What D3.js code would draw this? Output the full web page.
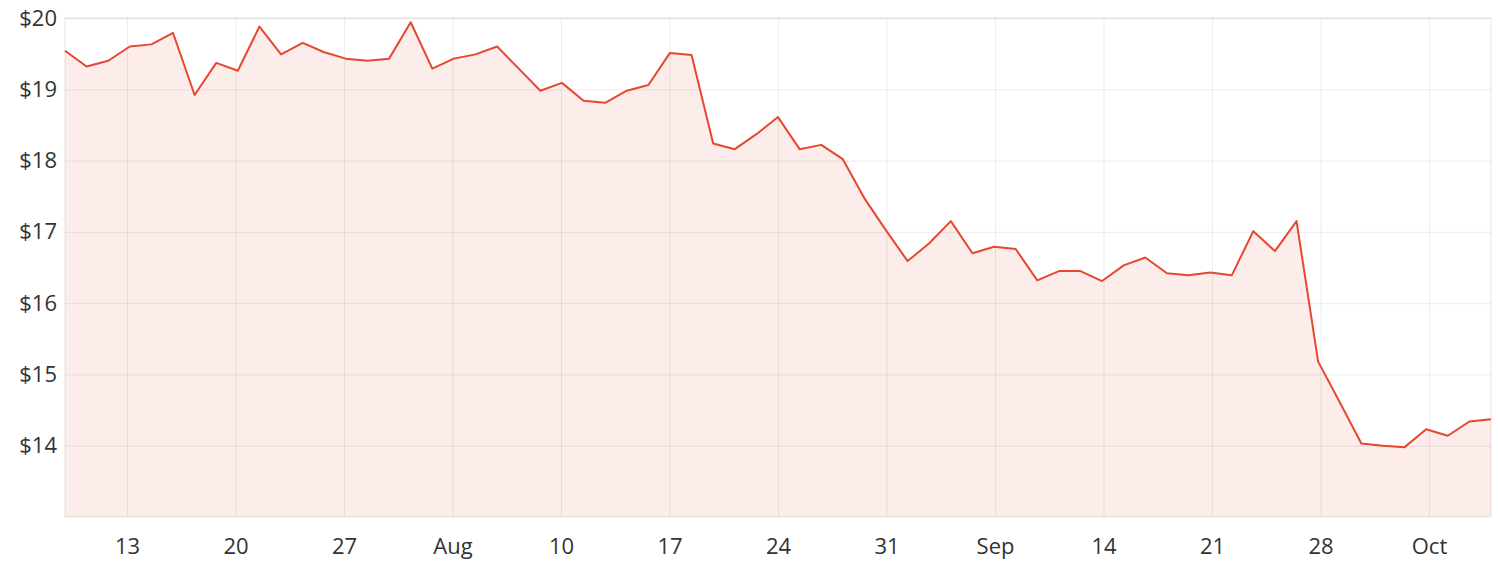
<!DOCTYPE html>
<html>
<head>
<meta charset="utf-8">
<script src="https://cdn.jsdelivr.net/npm/d3@7"></script>
<style>
  body { margin: 0; background: #fff; }
  text { font-family: "Open Sans", sans-serif; }
</style>
</head>
<body>
<div id="chart"></div>
<script>
// daily closing price, evenly spaced sessions
const prices = [19.54, 19.32, 19.40, 19.60, 19.63, 19.79, 18.92, 19.37, 19.26, 19.88,
  19.49, 19.65, 19.52, 19.43, 19.40, 19.43, 19.94, 19.29, 19.43, 19.49,
  19.60, 19.29, 18.98, 19.09, 18.84, 18.81, 18.98, 19.06, 19.51, 19.48,
  18.24, 18.16, 18.37, 18.61, 18.16, 18.22, 18.02, 17.47, 17.02, 16.59,
  16.84, 17.15, 16.70, 16.79, 16.76, 16.32, 16.45, 16.45, 16.31, 16.53,
  16.64, 16.42, 16.39, 16.43, 16.39, 17.01, 16.73, 17.15, 15.18, 14.61,
  14.03, 14.00, 13.98, 14.23, 14.14, 14.34, 14.37];

const startDate = new Date(2020, 6, 9),
      endDate = new Date(2020, 9, 9);

const tickDates = [[2020, 6, 13], [2020, 6, 20], [2020, 6, 27], [2020, 7, 3], [2020, 7, 10],
  [2020, 7, 17], [2020, 7, 24], [2020, 7, 31], [2020, 8, 7], [2020, 8, 14],
  [2020, 8, 21], [2020, 8, 28], [2020, 9, 5]].map(d => new Date(d[0], d[1], d[2]));
const tickLabels = ["13", "20", "27", "Aug", "10", "17", "24", "31", "Sep", "14", "21", "28", "Oct"];

const yTicks = [14, 15, 16, 17, 18, 19, 20];

const width = 1498,
    height = 568,
    margin = ({ top: 18, right: 7, bottom: 51, left: 65 });

const svg = d3.select("#chart")
    .append("svg")
    .attr("width", width)
    .attr("height", height);

const x = d3.scaleLinear()
    .domain([0, prices.length - 1])
    .range([margin.left, width - margin.right]);

const xTime = d3.scaleTime()
    .domain([startDate, endDate])
    .range([margin.left, width - margin.right]);

const y = d3.scaleLinear()
    .domain([13, 20])
    .range([height - margin.bottom, margin.top]);

// area under the line
svg.append("path")
    .datum(prices)
    .attr("fill", "#e6472f")
    .attr("fill-opacity", 0.1)
    .attr("d", d3.area()
        .x((d, i) => x(i))
        .y0(y(13))
        .y1(d => y(d)));

// grid
const yAxis = g => g
    .attr("transform", `translate(${margin.left},0)`)
    .call(d3.axisLeft(y).tickValues(yTicks).tickFormat(d => "$" + d)
        .tickSize(-(width - margin.left - margin.right)).tickPadding(8))
    .call(g => g.select(".domain").remove())
    .call(g => g.selectAll(".tick line").attr("stroke", "#000").attr("stroke-opacity", 0.07))
    .call(g => g.selectAll(".tick text")
        .attr("font-size", 22).attr("fill", "#333"));

const xAxis = g => g
    .attr("transform", `translate(0,${height - margin.bottom})`)
    .call(d3.axisBottom(xTime).tickValues(tickDates).tickFormat((d, i) => tickLabels[i])
        .tickSize(-(height - margin.top - margin.bottom)).tickPadding(21))
    .call(g => g.select(".domain").remove())
    .call(g => g.selectAll(".tick line").attr("stroke", "#000").attr("stroke-opacity", 0.07))
    .call(g => g.selectAll(".tick text")
        .attr("font-size", 22).attr("fill", "#333"));

svg.append("g").call(yAxis);
svg.append("g").call(xAxis);

// frame
svg.append("rect")
    .attr("x", margin.left)
    .attr("y", margin.top)
    .attr("width", width - margin.left - margin.right)
    .attr("height", height - margin.top - margin.bottom)
    .attr("fill", "none")
    .attr("stroke", "#000")
    .attr("stroke-opacity", 0.1);

svg.append("path")
    .datum(prices)
    .attr("fill", "none")
    .attr("stroke", "#e6472f")
    .attr("stroke-width", 2)
    .attr("stroke-linejoin", "round")
    .attr("d", d3.line()
        .x((d, i) => x(i))
        .y(d => y(d)));
</script>
</body>
</html>
